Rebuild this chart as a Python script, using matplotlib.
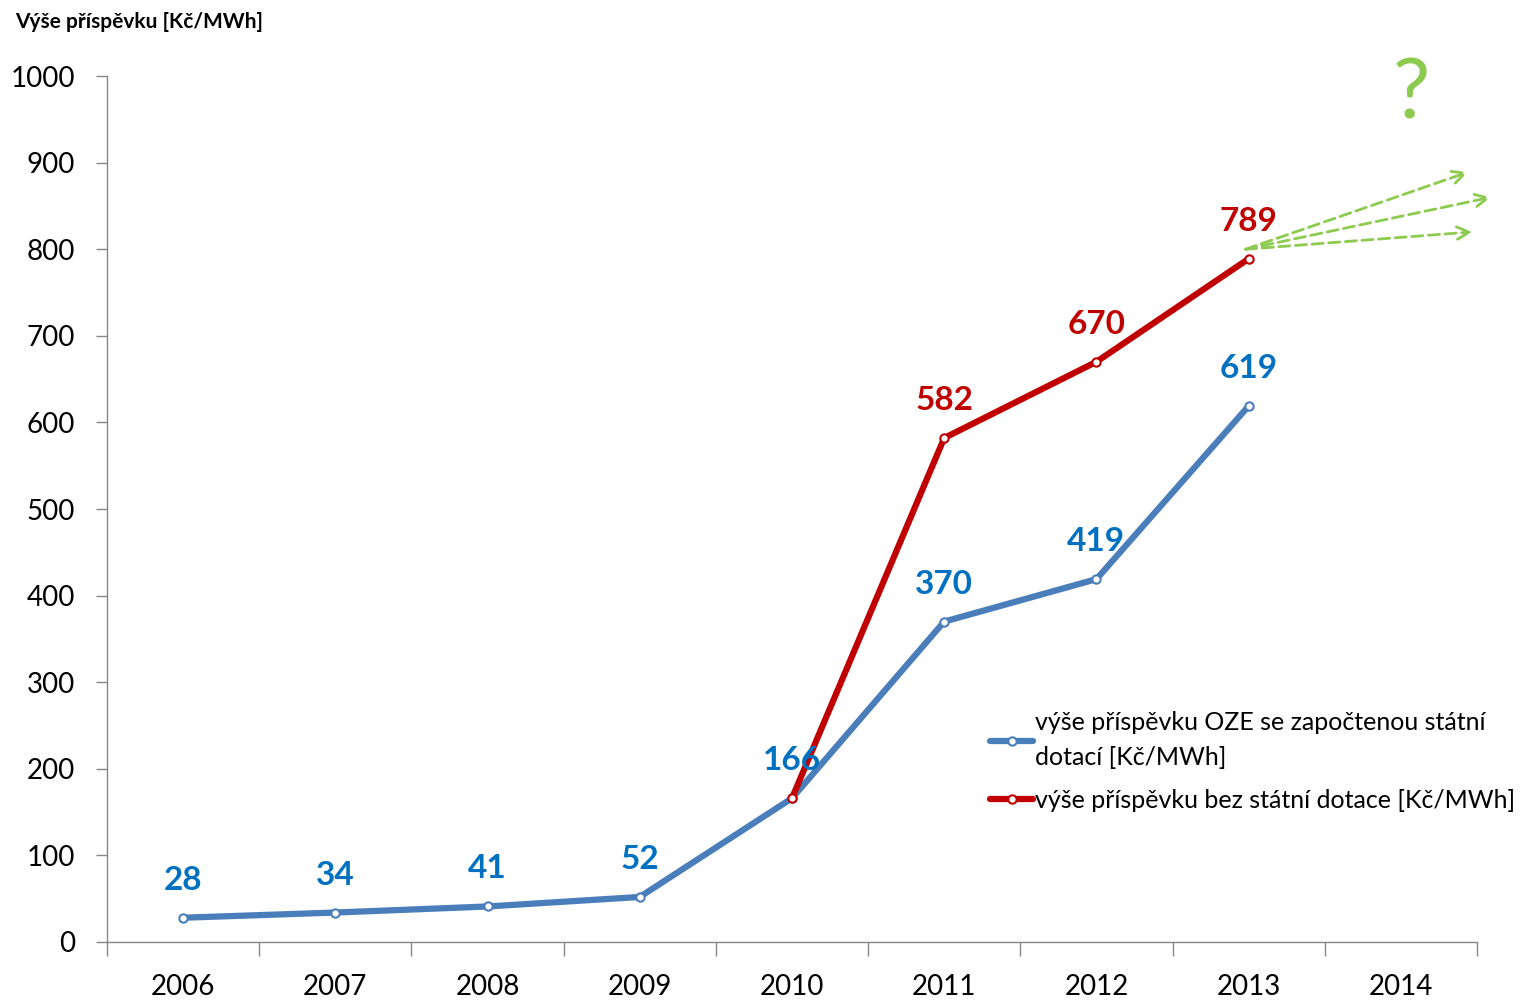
import matplotlib.pyplot as plt
from matplotlib.ticker import FixedLocator, NullFormatter

# hodnoty
roky = ["2006", "2007", "2008", "2009", "2010", "2011", "2012", "2013", "2014"]
s_dotaci = [28, 34, 41, 52, 166, 370, 419, 619]
bez_dotace = [166, 582, 670, 789]
bez_dotace_roky = ["2010", "2011", "2012", "2013"]
# odhad budoucího vývoje (šipky)
sipky_x = [8.44, 8.59, 8.47]
sipky_y = [889, 860, 820]

modra = "#4A7EBB"
modra_txt = "#0070C0"
cervena = "#C00000"
zelena = "#8CCB4F"

plt.rcParams["font.family"] = ["Lato", "DejaVu Sans"]

fig = plt.figure(figsize=(15.35, 10.02), dpi=100)
ax = fig.add_axes([0.0697, 0.0599, 0.8925, 0.8642])

x_modra = list(range(len(s_dotaci)))
x_cervena = [roky.index(r) for r in bez_dotace_roky]

ax.plot(x_modra, s_dotaci, color=modra, lw=4.5, marker="o", ms=6,
        mfc="white", mec=modra, mew=1.5, solid_capstyle="round",
        label="výše příspěvku OZE se započtenou státní\ndotací [Kč/MWh]")
ax.plot(x_cervena, bez_dotace, color=cervena, lw=4.5, marker="o", ms=6,
        mfc="white", mec=cervena, mew=1.5, solid_capstyle="round",
        label="výše příspěvku bez státní dotace [Kč/MWh]")

for x, v in zip(x_modra, s_dotaci):
    ax.annotate(str(v), (x, v), xytext=(0, 27), textcoords="offset points",
                ha="center", va="center", fontsize=24, fontweight="bold",
                color=modra_txt)
for x, v in zip(x_cervena[1:], bez_dotace[1:]):
    ax.annotate(str(v), (x, v), xytext=(0, 27), textcoords="offset points",
                ha="center", va="center", fontsize=24, fontweight="bold",
                color=cervena)

# zelené čárkované šipky z posledního bodu
for sx, sy in zip(sipky_x, sipky_y):
    ax.annotate("", xy=(sx, sy), xytext=(6.98, 800),
                arrowprops=dict(arrowstyle="->,head_length=0.9,head_width=0.45",
                                color=zelena, lw=2, ls=(0, (4, 2)),
                                shrinkA=0, shrinkB=0),
                annotation_clip=False)
ax.text(8.07, 978, "?", fontsize=60, color=zelena, ha="center", va="center")

ax.set_xlim(-0.5, len(roky) - 0.5)
ax.set_ylim(0, 1000)
ax.set_yticks(range(0, 1001, 100))
ax.xaxis.set_major_locator(FixedLocator([i - 0.5 for i in range(len(roky) + 1)]))
ax.xaxis.set_major_formatter(NullFormatter())
ax.xaxis.set_minor_locator(FixedLocator(range(len(roky))))
ax.set_xticklabels(roky, minor=True)
ax.tick_params(axis="x", which="major", length=10, color="#868686", width=1)
ax.tick_params(axis="x", which="minor", length=0, pad=23, labelsize=20)
ax.tick_params(axis="y", length=8, color="#868686", width=1, pad=15, labelsize=20)

for s in ["top", "right"]:
    ax.spines[s].set_visible(False)
for s in ["left", "bottom"]:
    ax.spines[s].set_color("#868686")
    ax.spines[s].set_linewidth(1)

fig.text(0.01, 0.978, "Výše příspěvku [Kč/MWh]", fontsize=15, fontweight="bold",
         va="center", ha="left")

leg = ax.legend(loc="upper left", bbox_to_anchor=(0.637, 0.278), frameon=False,
                fontsize=18, handlelength=1.75, handletextpad=0.05,
                labelspacing=0.8, borderaxespad=0)
plt.setp(leg.get_texts(), linespacing=1.6)

fig.savefig("out.png", dpi=100)
